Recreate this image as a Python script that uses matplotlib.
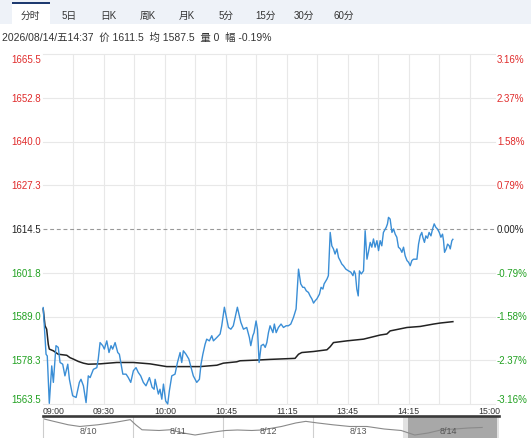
import matplotlib
matplotlib.use('Agg')
import matplotlib.pyplot as plt
from matplotlib.patches import Rectangle

plt.rcParams['font.family'] = ['Liberation Sans', 'Noto Sans CJK SC', 'DejaVu Sans']

W, H, DPI = 531, 439, 100

# ---------------- data ----------------
tabs = ['分时', '5日', '日K', '周K', '月K', '5分', '15分', '30分', '60分']
info_text = '2026/08/14/五14:37  价 1611.5  均 1587.5  量 0  幅 -0.19%'

pre_close = 1614.5
price_levels = [1665.5, 1652.75, 1640.0, 1627.25, 1614.5, 1601.75, 1589.0, 1576.25, 1563.5]
price_labels = ['1665.5', '1652.8', '1640.0', '1627.3', '1614.5', '1601.8', '1589.0', '1578.3', '1563.5']
pct_labels = ['3.16%', '2.37%', '1.58%', '0.79%', '0.00%', '-0.79%', '-1.58%', '-2.37%', '-3.16%']

time_ticks = [0, 30, 60, 90, 120, 150, 180, 225]
time_labels = ['09:00', '09:30', '10:00', '10:45', '11:15', '13:45', '14:15', '15:00']

# trading minutes since open, and price
price_t = [0.1, 1.5, 2.1, 3.1, 4.3, 5.1, 6.4, 7.5, 8.4, 9.7, 10.8, 12.2, 13.0, 14.6, 16.3, 17.9,
           18.7, 19.9, 21.2, 22.3, 23.2, 24.8, 26.5, 27.2, 28.1, 29.4, 30.2, 31.4, 32.5, 33.5,
           34.3, 35.5, 36.8, 37.6, 39.3, 40.9, 42.0, 43.2, 44.5, 45.8, 46.9, 48.1, 49.4, 50.7,
           52.4, 53.7, 54.7, 55.2, 56.8, 57.6, 58.5, 59.3, 60.4, 61.4, 62.2, 63.4, 65.0, 66.2,
           67.5, 68.3, 69.1, 70.4, 71.8, 72.9, 74.0, 75.7, 77.0, 77.8, 78.7, 79.8, 80.6, 81.9,
           83.1, 83.9, 85.6, 87.2, 88.0, 89.3, 91.3, 92.5, 93.7, 95.7, 97.4, 98.7, 100.3, 101.6,
           102.3, 103.3, 103.9, 104.9, 105.6, 106.4, 107.4, 108.5, 109.4, 110.2, 111.0, 111.8,
           113.2, 113.9, 114.8, 115.9, 117.2, 118.4, 119.7, 120.8, 122.0, 123.3, 124.6, 125.8,
           126.9, 127.9, 128.7, 129.6, 130.7, 131.5, 132.4, 133.2, 134.0, 134.8, 136.1, 136.9,
           137.8, 138.4, 139.8, 140.5, 141.4, 142.2, 143.0, 143.8, 144.7, 145.5, 146.3, 147.1,
           147.9, 149.1, 150.4, 151.6, 152.6, 153.2, 153.8, 154.5, 155.2, 155.8, 156.7, 157.8,
           158.6, 159.5, 160.2, 161.1, 161.9, 162.7, 163.5, 164.4, 165.2, 166.0, 166.8, 167.6,
           169.0, 169.6, 170.1, 170.9, 171.8, 172.6, 173.4, 174.2, 175.0, 175.9, 176.7, 177.5,
           178.3, 179.2, 180.0, 180.8, 181.6, 182.4, 184.1, 184.9, 185.7, 186.5, 187.0, 187.8,
           188.5, 189.3, 190.1, 191.0, 191.8, 192.6, 193.4, 194.2, 195.1, 195.9, 196.7, 197.2,
           197.7, 198.5, 199.2, 200.0, 200.5, 201.3, 201.8]
price_v = [1591.6, 1578.0, 1577.5, 1563.7, 1574.6, 1569.8, 1580.5, 1580.0, 1575.6, 1575.1,
           1571.7, 1575.1, 1570.7, 1565.9, 1565.4, 1569.8, 1570.7, 1568.8, 1563.9, 1571.7,
           1571.2, 1573.6, 1574.1, 1576.6, 1581.4, 1580.5, 1579.5, 1581.9, 1578.5, 1580.5,
           1579.5, 1581.4, 1578.5, 1578.0, 1572.2, 1572.2, 1571.2, 1569.8, 1573.2, 1574.1,
           1572.7, 1571.7, 1569.8, 1568.8, 1571.2, 1568.4, 1567.8, 1570.7, 1566.4, 1567.8,
           1564.9, 1569.3, 1564.4, 1563.5, 1567.3, 1571.7, 1572.2, 1575.6, 1578.5, 1575.6,
           1579.0, 1578.0, 1576.6, 1574.1, 1571.7, 1569.8, 1570.7, 1575.1, 1578.0, 1580.9,
           1582.4, 1581.9, 1583.4, 1581.9, 1582.9, 1583.9, 1586.3, 1591.7, 1585.8, 1585.3,
           1586.3, 1591.7, 1587.3, 1585.3, 1585.8, 1582.9, 1580.5, 1583.4, 1584.3, 1587.7,
           1585.3, 1575.6, 1580.5, 1580.9, 1580.0, 1581.4, 1584.3, 1586.3, 1584.3, 1586.8,
           1584.3, 1585.8, 1586.8, 1585.8, 1586.3, 1586.3, 1586.8, 1588.7, 1591.2, 1602.8,
           1598.5, 1597.5, 1597.5, 1596.5, 1596.0, 1595.0, 1594.1, 1592.9, 1593.6, 1594.1,
           1595.5, 1597.5, 1597.0, 1598.5, 1599.9, 1600.9, 1613.5, 1609.6, 1608.7, 1607.2,
           1608.7, 1606.2, 1605.3, 1604.3, 1603.8, 1602.8, 1602.3, 1601.9, 1600.9, 1602.3,
           1601.4, 1597.0, 1595.0, 1602.3, 1601.4, 1602.3, 1614.0, 1605.7, 1607.7, 1610.6,
           1609.2, 1611.6, 1609.2, 1611.1, 1608.2, 1611.1, 1609.6, 1613.5, 1615.0, 1616.0,
           1617.9, 1617.4, 1613.5, 1614.5, 1613.0, 1612.1, 1609.2, 1608.7, 1607.7, 1609.2,
           1606.7, 1605.3, 1604.8, 1603.8, 1605.3, 1605.7, 1605.7, 1610.1, 1612.5, 1613.5,
           1612.1, 1610.6, 1612.5, 1611.8, 1613.5, 1612.5, 1614.5, 1616.0, 1615.0, 1614.5,
           1613.5, 1612.1, 1613.0, 1611.1, 1607.7, 1608.7, 1610.1, 1609.6, 1608.7, 1611.1,
           1611.5]

avg_t = [0.1, 1.0, 1.8, 2.6, 3.1, 5.1, 7.5, 11.7, 13.3, 14.9, 17.4, 19.9, 22.3, 28.1, 36.3,
         44.5, 52.7, 60.9, 69.1, 77.3, 85.6, 88.8, 95.4, 97.0, 105.3, 111.8, 124.1, 125.8,
         127.4, 133.2, 139.8, 141.4, 143.0, 149.6, 157.8, 166.0, 169.3, 170.9, 179.2, 185.7,
         192.3, 195.6, 201.8]
avg_v = [1591.2, 1586.3, 1585.3, 1580.9, 1579.5, 1579.0, 1578.0, 1577.7, 1577.0, 1576.6,
         1575.9, 1575.4, 1575.1, 1575.2, 1575.6, 1575.6, 1575.2, 1574.4, 1574.4, 1574.4,
         1574.8, 1575.4, 1575.8, 1576.1, 1576.3, 1576.5, 1576.8, 1578.0, 1578.5, 1578.8,
         1579.3, 1580.2, 1581.4, 1581.9, 1582.4, 1583.6, 1583.9, 1584.8, 1585.8, 1586.1,
         1586.8, 1587.1, 1587.5]

nav_days = ['8/10', '8/11', '8/12', '8/13', '8/14']
nav_t = [0.01, 0.12, 0.28, 0.41, 0.61, 0.80, 0.97, 1.03, 1.10, 1.29, 1.41, 1.56, 1.69, 1.83,
         1.94, 2.03, 2.16, 2.32, 2.43, 2.65, 2.81, 2.92, 3.05, 3.22, 3.41, 3.60, 3.79, 3.98,
         4.13, 4.28, 4.43, 4.58, 4.73, 4.88]
nav_v = [1631.4, 1621.1, 1606.5, 1599.2, 1606.5, 1616.8, 1628.4, 1606.5, 1585.1, 1582.1,
         1585.1, 1571.4, 1562.8, 1571.4, 1577.8, 1582.1, 1584.2, 1582.1, 1584.2, 1599.2,
         1614.3, 1621.1, 1614.3, 1606.5, 1599.2, 1599.2, 1588.5, 1582.1, 1562.8, 1571.4,
         1585.1, 1588.5, 1592.8, 1595.0]

# ---------------- style ----------------
RED = '#e02b2b'
GREEN = '#21a121'
DARK = '#222222'
GRID = '#e8e8e8'
BLUE = '#3a8ed6'

fig = plt.figure(figsize=(W / DPI, H / DPI), dpi=DPI, facecolor='white')

# background / chrome layer in pixel coordinates
bg = fig.add_axes([0, 0, 1, 1], zorder=0)
bg.set_xlim(0, W)
bg.set_ylim(H, 0)
bg.axis('off')
bg.add_patch(Rectangle((0, 0), W, 25, color='#eef2f8', lw=0))
bg.add_patch(Rectangle((12, 4), 38, 21, color='white', lw=0))
bg.add_patch(Rectangle((12, 3.2), 38, 1.6, color='#1f3b70', lw=0))
for i, tb in enumerate(tabs):
    bg.text(30 + 39.2 * i, 15.5, tb, ha='center', va='center', fontsize=7,
            color='#333333')
bg.text(2, 37.5, info_text, ha='left', va='center', fontsize=7.5, color='#333333')

# main chart
x0, x1, ytop, ybot = 43, 500, 55, 405
ax = fig.add_axes([x0 / W, (H - ybot) / H, (x1 - x0) / W, (ybot - ytop) / H], zorder=2)
ax.set_facecolor('none')
ax.set_xlim(0, 225)
ax.set_ylim(price_levels[-1], price_levels[0])
for s in ax.spines.values():
    s.set_visible(False)
ax.set_xticks([])
ax.set_yticks([])

for m in range(15, 225, 15):
    ax.axvline(m, color=GRID, lw=0.8, zorder=1)
for lv in price_levels:
    if lv == pre_close:
        ax.axhline(lv, xmax=0.99, color='#999999', lw=0.8, dashes=(3.5, 2.5), zorder=1)
    else:
        ax.axhline(lv, xmax=0.99, color=GRID, lw=0.8, zorder=1, clip_on=False)

ax.plot(avg_t, avg_v, color=DARK, lw=1.1, zorder=3, clip_on=False)
ax.plot(price_t, price_v, color=BLUE, lw=1.0, zorder=4, clip_on=False)

ytr = ax.get_yaxis_transform()
n = len(price_levels)
for i, (lv, pl, pc) in enumerate(zip(price_levels, price_labels, pct_labels)):
    col = RED if lv > pre_close else (GREEN if lv < pre_close else DARK)
    va = 'top' if i == 0 else ('bottom' if i == n - 1 else 'center')
    ax.text(-2.0 / (x1 - x0), lv, pl, transform=ytr, ha='right', va=va,
            fontsize=7, color=col)
    ax.text((497 - x0) / (x1 - x0), lv, pc, transform=ytr, ha='left', va=va,
            fontsize=7, color=col)

xtr = ax.get_xaxis_transform()
ylab = -(411.5 - ybot) / (ybot - ytop)
for i, (tt, tl) in enumerate(zip(time_ticks, time_labels)):
    ha = 'left' if i == 0 else ('right' if i == len(time_ticks) - 1 else 'center')
    ax.text(tt, ylab, tl, transform=xtr, ha=ha, va='center', fontsize=6.3,
            color='#333333')

# navigator
nav = fig.add_axes([x0 / W, 0, (499 - x0) / W, (H - 417) / H], zorder=1)
nav.set_xlim(0, 5.067)
nav.set_ylim(1550, 1644)
nav.set_xticks([])
nav.set_yticks([])
for k in ['bottom', 'right']:
    nav.spines[k].set_visible(False)
nav.spines['left'].set_color('#cccccc')
nav.spines['left'].set_linewidth(0.8)
nav.spines['top'].set_color('#3a3a3a')
nav.spines['top'].set_linewidth(1.9)
nav.axvspan(4.06, 5.04, color='#a8a8a8', lw=0, zorder=0)
nav.axvspan(4.0, 4.06, color='#e2e2e2', lw=0, zorder=0)
nav.axvspan(5.04, 5.067, color='#e2e2e2', lw=0, zorder=0)
for d in range(1, 4):
    nav.axvline(d, color='#cfcfcf', lw=0.8, zorder=0)
nav.plot(nav_t, nav_v, color='#8a8a8a', lw=0.8, zorder=2)
for i, dl in enumerate(nav_days):
    nav.text(i + 0.5, 0.36, dl, transform=nav.get_xaxis_transform(), ha='center',
             va='center', fontsize=6.5, color='#555555', zorder=3)

fig.savefig('out.png', dpi=DPI, facecolor='white')
